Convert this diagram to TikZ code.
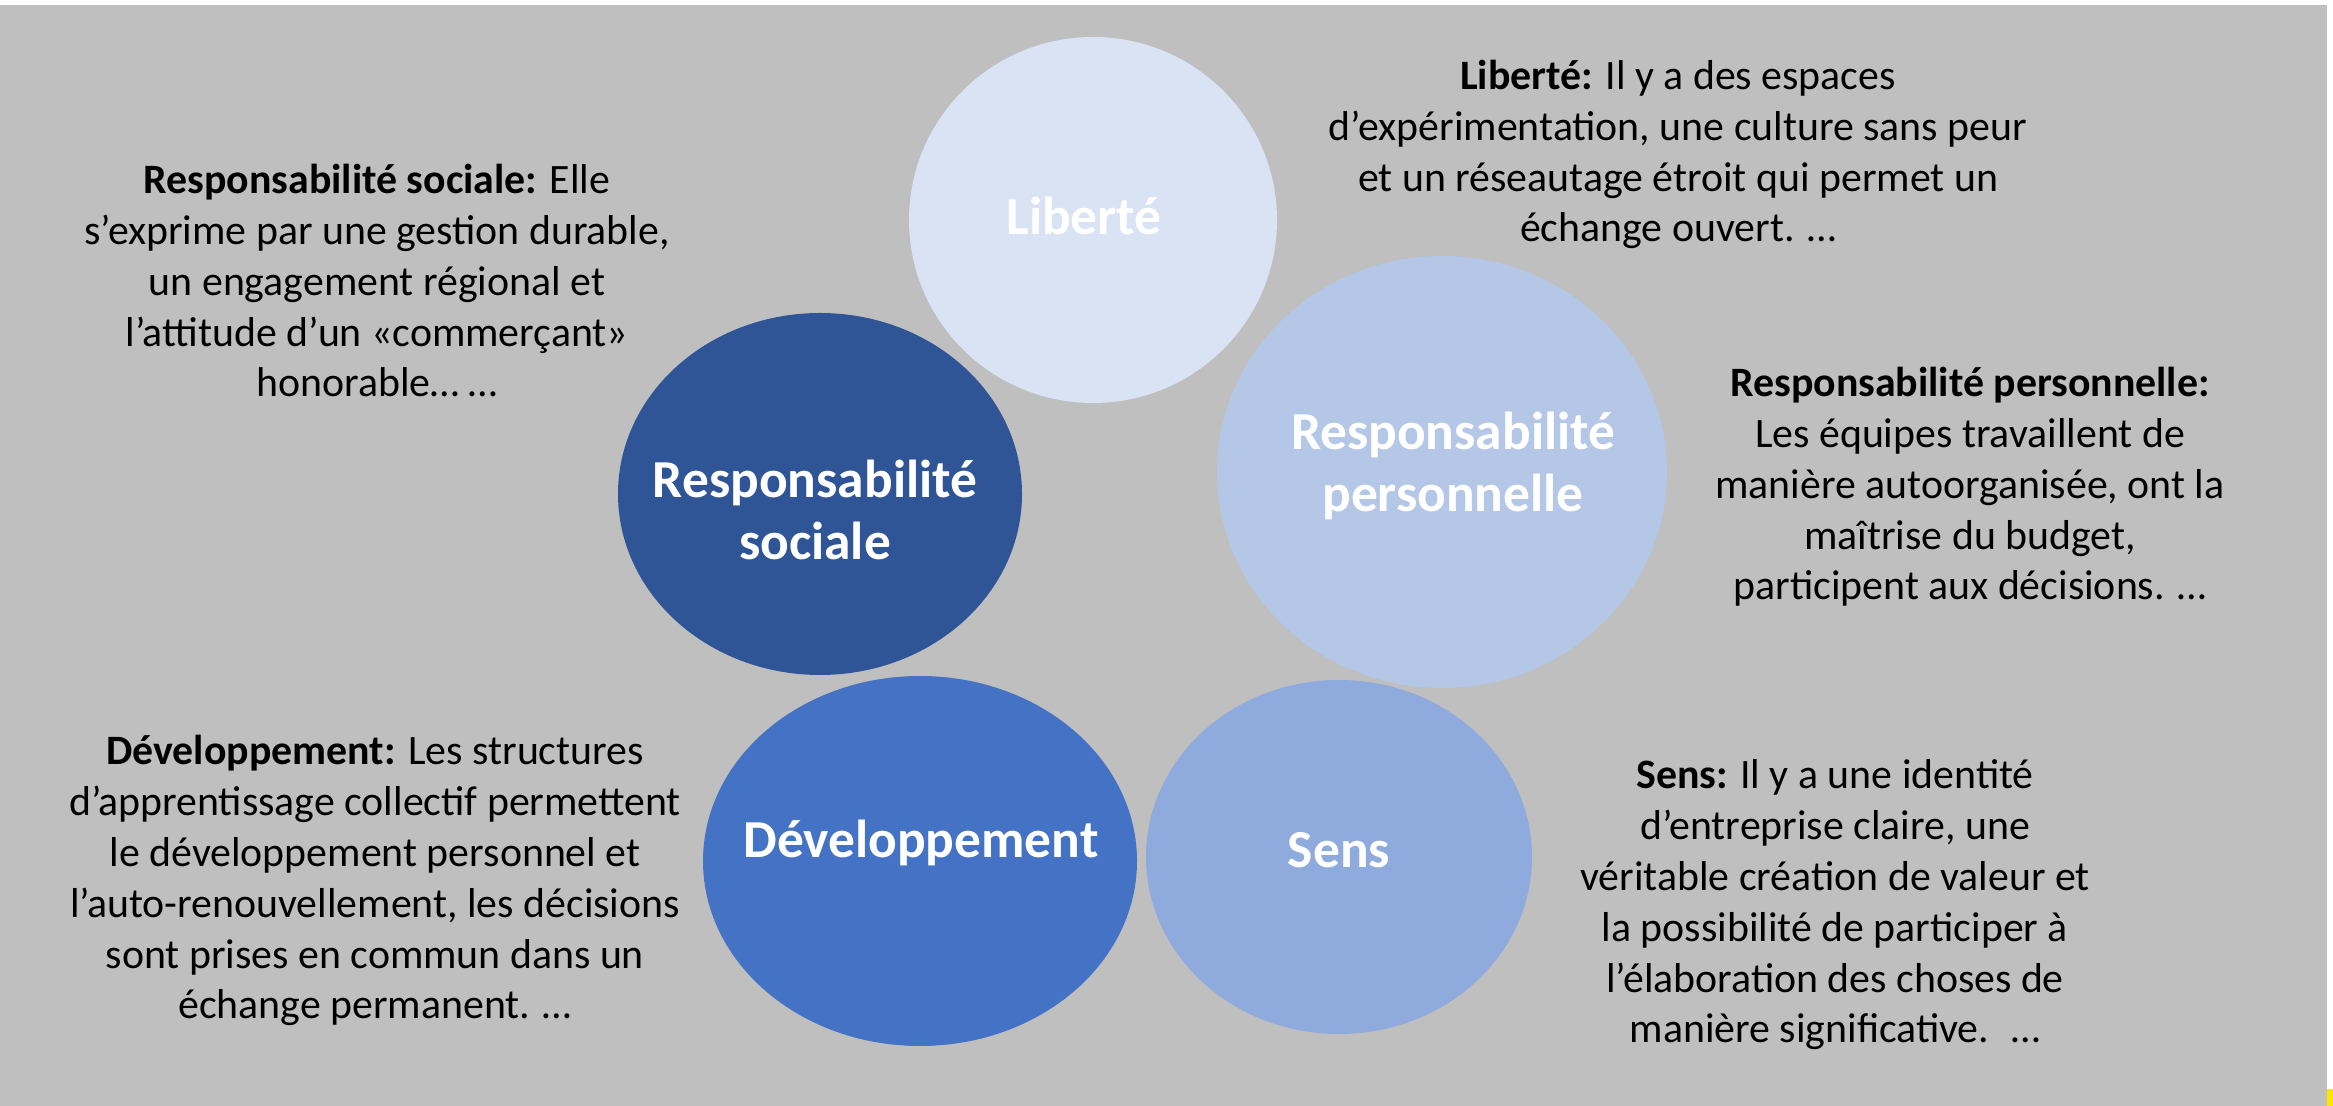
\documentclass[tikz,border=0pt]{standalone}
\usepackage{fontspec}
\setmainfont{Carlito}
\usepackage{tikz}
\usetikzlibrary{shapes.geometric}
\usepackage{tkz-euclide}

\definecolor{fond}{HTML}{BFBFBF}
\definecolor{bleuA}{HTML}{DAE3F3}
\definecolor{bleuB}{HTML}{B4C7E7}
\definecolor{bleuC}{HTML}{8FAADC}
\definecolor{bleuD}{HTML}{4472C4}
\definecolor{bleuE}{HTML}{2F5597}
\definecolor{jaune}{HTML}{FFE600}

\tikzset{
  bulle/.style={ellipse,inner sep=0pt,draw=none},
  titre/.style={text=white,align=center,anchor=base,
    font=\fontsize{15.2}{17.9}\selectfont\bfseries},
  texte/.style={align=center,anchor=base,inner sep=0pt,
    font=\fontsize{11.9}{14.5}\selectfont}
}

\begin{document}
\begin{tikzpicture}
      \useasboundingbox (0,0) rectangle (23.33,11.06);
      \fill[fond] (0,0) rectangle (23.27,11.01);
      \fill[jaune] (23.27,0) rectangle (23.33,0.17);

      \tkzDefPoint(10.93,8.86){L}
      \tkzDefPoint(8.20,6.12){RS}
      \tkzDefPoint(14.42,6.34){RP}
      \tkzDefPoint(9.20,2.45){D}
      \tkzDefPoint(13.39,2.49){S}

      \node[bulle,fill=bleuA,minimum width=3.68cm,minimum height=3.66cm] (lib) at (L) {};
      \node[bulle,fill=bleuE,minimum width=4.04cm,minimum height=3.62cm] (rsoc) at (RS) {};
      \node[bulle,fill=bleuB,minimum width=4.50cm,minimum height=4.32cm] (rpers) at (RP) {};
      \node[bulle,fill=bleuD,minimum width=4.34cm,minimum height=3.70cm] (dev) at (D) {};
      \node[bulle,fill=bleuC,minimum width=3.86cm,minimum height=3.54cm] (sens) at (S) {};

      \node[titre] (tlib) at (10.84,8.71) {Liberté};
      \node[titre] (trsoc) at (8.15,5.46) {Responsabilité\\sociale};
      \node[titre] (trpers) at (14.53,5.94) {Responsabilité\\personnelle};
      \node[titre] (tdev) at (9.21,2.48) {Développement};
      \node[titre] (tsens) at (13.39,2.38) {Sens};

      \node[texte] (xlib) at (16.78,8.64) {\textbf{Liberté:} Il y a des espaces\\
        d’expérimentation, une culture sans peur\\
        et un réseautage étroit qui permet un\\
        échange ouvert. …};
      \node[texte] (xrsoc) at (3.77,7.09) {\textbf{Responsabilité sociale:} Elle\\
        s’exprime par une gestion durable,\\
        un engagement régional et\\
        l’attitude d’un «commerçant»\\
        honorable… …};
      \node[texte] (xrpers) at (19.70,5.06) {\textbf{Responsabilité personnelle:}\\
        Les équipes travaillent de\\
        manière autoorganisée, ont la\\
        maîtrise du budget,\\
        participent aux décisions. …};
      \node[texte] (xdev) at (3.75,0.87) {\textbf{Développement:} Les structures\\
        d’apprentissage collectif permettent\\
        le développement personnel et\\
        l’auto-renouvellement, les décisions\\
        sont prises en commun dans un\\
        échange permanent. …};
      \node[texte] (xsens) at (18.35,0.63) {\textbf{Sens:} Il y a une identité\\
        d’entreprise claire, une\\
        véritable création de valeur et\\
        la possibilité de participer à\\
        l’élaboration des choses de\\
        manière significative.~ …};
\end{tikzpicture}
\end{document}
